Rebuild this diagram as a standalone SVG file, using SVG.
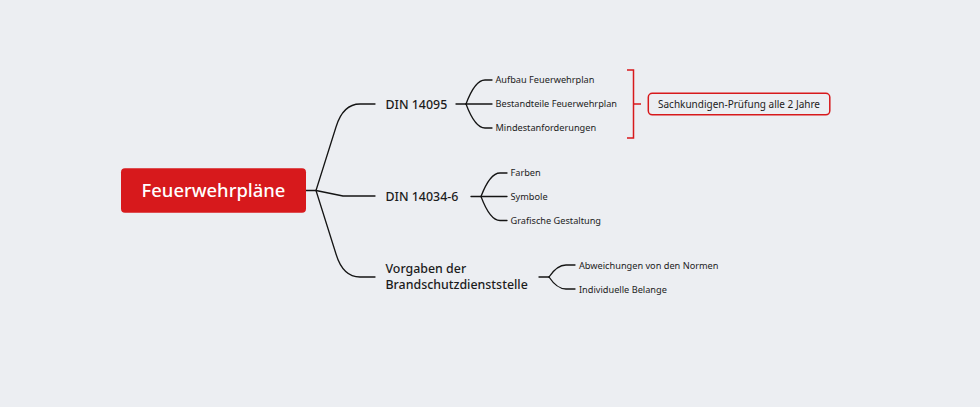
<svg xmlns="http://www.w3.org/2000/svg" width="980" height="407" viewBox="0 0 980 407">
<style>
.t{font-family:"Noto Sans","Open Sans",sans-serif;fill:#1c1c1c}
.m{font-size:12.4px;font-weight:500}
.l{font-size:9.2px}
.c{fill:none;stroke:#141414;stroke-width:1.3;stroke-linecap:round;stroke-linejoin:round}
.r{fill:none;stroke:#d7191c;stroke-width:1.5}
</style>
<rect width="980" height="407" fill="#eceef2"/>
<g id="connectors">
<path class="c" d="M305,190.5 H316"/>
<path class="c" d="M316,190.5 L336,127 Q343,104 360,104 H375"/>
<path class="c" d="M316,190.5 L343,196 H375"/>
<path class="c" d="M316,190.5 L336,254 Q343,277 360,277 H375"/>
<path class="c" d="M456,104 H466"/>
<path class="c" d="M466,104 Q475,80 485,80 H492"/>
<path class="c" d="M466,104 H492"/>
<path class="c" d="M466,104 Q475,128 485,128 H492"/>
<path class="c" d="M471,196.5 H481"/>
<path class="c" d="M481,196.5 Q490,173 500,173 H507"/>
<path class="c" d="M481,196.5 H507"/>
<path class="c" d="M481,196.5 Q490,220.5 500,220.5 H507"/>
<path class="c" d="M539,277 H549"/>
<path class="c" d="M549,277 Q557,265 566,265 H575"/>
<path class="c" d="M549,277 Q557,289 566,289 H575"/>
</g>
<g id="root">
<rect x="121" y="168.3" width="185" height="44.5" rx="4" fill="#d7191c"/>
<text class="t" x="213.5" y="197" font-size="18.4" font-weight="500" text-anchor="middle" style="fill:#fff">Feuerwehrpläne</text>
</g>
<g id="din14095">
<text class="t m" x="385.5" y="108.5">DIN 14095</text>
</g>
<g id="din14034">
<text class="t m" x="385.5" y="200.7">DIN 14034-6</text>
</g>
<g id="vorgaben">
<text class="t m" x="385.5" y="272.7">Vorgaben der</text>
<text class="t m" x="385.5" y="289.3">Brandschutzdienststelle</text>
</g>
<g id="aufbau"><text class="t l" x="495.5" y="83.3">Aufbau Feuerwehrplan</text></g>
<g id="bestandteile"><text class="t l" x="495.5" y="107.3">Bestandteile Feuerwehrplan</text></g>
<g id="mindest"><text class="t l" x="495.5" y="131.3">Mindestanforderungen</text></g>
<g id="farben"><text class="t l" x="510.5" y="176">Farben</text></g>
<g id="symbole"><text class="t l" x="510.5" y="200">Symbole</text></g>
<g id="grafische"><text class="t l" x="510.5" y="224">Grafische Gestaltung</text></g>
<g id="abweichungen"><text class="t l" x="579" y="268.5">Abweichungen von den Normen</text></g>
<g id="individuelle"><text class="t l" x="579" y="292.5">Individuelle Belange</text></g>
<g id="bracket">
<path class="r" d="M627,70 H633.5 V138 H627 M633.5,104 H641"/>
</g>
<g id="sachkundigen">
<rect x="648.3" y="93.3" width="181.5" height="21.5" rx="4" class="r"/>
<text class="t" x="739" y="107.5" font-size="10" text-anchor="middle">Sachkundigen-Prüfung alle 2 Jahre</text>
</g>
</svg>
